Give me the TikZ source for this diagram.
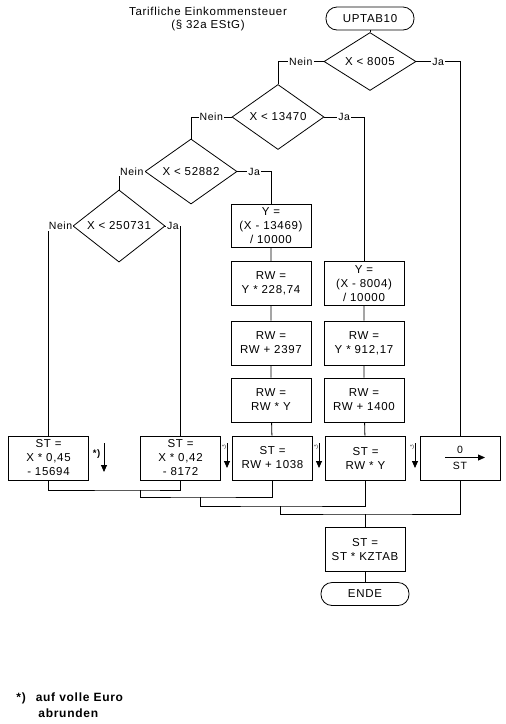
\documentclass[tikz,border=0pt]{standalone}
\usepackage{fontspec}
\setmainfont{Liberation Sans}[LetterSpace=6]
\usetikzlibrary{shapes.geometric,arrows.meta}

\begin{document}
\begin{tikzpicture}[x=1pt,y=-1pt,line width=0.8,
	box/.style={draw,minimum width=80pt,minimum height=44pt,align=center,inner sep=1pt,font=\fontsize{11.5}{14}\selectfont},
	dec/.style={draw,diamond,minimum width=92pt,minimum height=48pt,inner sep=0pt,font=\fontsize{11.5}{13}\selectfont},
	term/.style={draw,rounded corners=11pt,minimum width=88pt,minimum height=23pt,font=\fontsize{11.5}{13}\selectfont},
	lbl/.style={fill=white,inner sep=1pt,font=\fontsize{10.5}{12}\selectfont},
	tip/.style={-{Triangle[length=7pt,width=6pt]}}]
			\useasboundingbox (0,0) rectangle (506,724);
			\node[align=center,font=\fontsize{11.5}{13}\selectfont] (title) at (208,19.5) {Tarifliche Einkommensteuer\\(§ 32a EStG)};
			\node[term] (start) at (370,18.5) {UPTAB10};
			\node[dec] (d1) at (370,61.5) {X < 8005};
			\node[dec] (d2) at (278,117) {X < 13470};
			\node[dec] (d3) at (191,171.5) {X < 52882};
			\node[dec] (d4) at (119,226) {X < 250731};
			\node[box,minimum height=43pt] (y1) at (271,225.5) {Y =\\(X - 13469)\\/ 10000};
			\node[box] (rw1) at (271,283.5) {RW =\\Y * 228,74};
			\node[box] (rw2) at (271,343) {RW =\\RW + 2397};
			\node[box] (rw3) at (271,400) {RW =\\RW * Y};
			\node[box] (y2) at (364,283.5) {Y =\\(X - 8004)\\/ 10000};
			\node[box] (rw4) at (364,343) {RW =\\Y * 912,17};
			\node[box] (rw5) at (364,400) {RW =\\RW + 1400};
			\node[box] (st1) at (48.5,458) {ST =\\X * 0,45\\- 15694};
			\node[box] (st2) at (180.5,458) {ST =\\X * 0,42\\- 8172};
			\node[box] (st3) at (272.5,458) {ST =\\RW + 1038};
			\node[box] (st4) at (365.5,458) {ST =\\RW * Y};
			\node[box] (st5) at (460,458) {};
			\node[box] (kz) at (365,549.5) {ST =\\ST * KZTAB};
			\node[term] (ende) at (365,594) {ENDE};
			% Verzweigungen
			\draw (start) -- (d1);
			\draw (d1.west) -- node[lbl]{Nein} (d1.west -| d2.north) -- (d2.north);
			\draw (d1.east) -- node[lbl]{Ja} (d1.east -| st5.north) -- (st5.north);
			\draw (d2.west) -- node[lbl]{Nein} (d2.west -| d3.north) -- (d3.north);
			\draw (d2.east) -- node[lbl]{Ja} (d2.east -| y2.north) -- (y2.north);
			\draw (d3.west) -- node[lbl]{Nein} (d3.west -| d4.north) -- (d4.north);
			\draw (d3.east) -- node[lbl]{Ja} (d3.east -| y1.north) -- (y1.north);
			\draw (d4.west) -- node[lbl]{Nein} (d4.west -| st1.north) -- (st1.north);
			\draw (d4.east) -- node[lbl]{Ja} (d4.east -| st2.north) -- (st2.north);
			\draw (y1) -- (rw1) -- (rw2) -- (rw3) -- (st3);
			\draw (y2) -- (rw4) -- (rw5) -- (st4);
			% Zusammenfuehrung
			\coordinate (j1) at (140,490);
			\coordinate (j2) at (200,497);
			\coordinate (j3) at (280,506);
			\coordinate (j4) at (365,514);
			\draw (st1.south) |- (j1) -| (st2.south);
			\draw (j1) |- (j2) -| (st3.south);
			\draw (j2) |- (j3) -| (st4.south);
			\draw (j3) |- (j4) -| (st5.south);
			\draw (j4) -- (kz) -- (ende);
			% 0 -> ST
			\node[font=\fontsize{10.5}{12}\selectfont] (null) at (460,450) {0};
			\node[font=\fontsize{10.5}{12}\selectfont] (st) at (460,465.5) {ST};
			\draw[tip] (445,457.5) -- (485,457.5);
			% abrunden
			\draw[tip] (104,443) -- ++(0,29);
			\node[font=\fontsize{9.5}{9}\selectfont\bfseries] at (96.5,454) {*)};
			\foreach \x in {227,319,415} {
				\draw[tip] (\x,443) -- ++(0,25);
				\node[font=\fontsize{5}{5}\selectfont,inner sep=0pt] at (\x-3,447) {*)};
			}
			\node[anchor=west,inner sep=0pt,font=\fontsize{12}{14}\selectfont\bfseries] (fn1) at (16,698) {*)\hspace{10pt}auf volle Euro};
			\node[anchor=west,inner sep=0pt,font=\fontsize{12}{14}\selectfont\bfseries] (fn2) at (38,713) {abrunden};
		\end{tikzpicture}
\end{document}
